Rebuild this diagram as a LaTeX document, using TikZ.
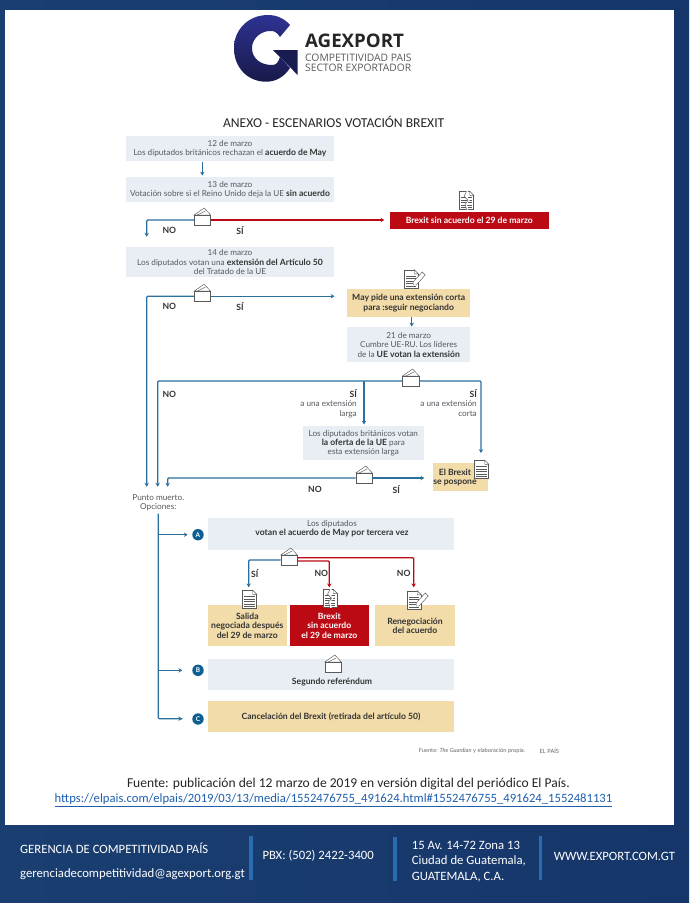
\documentclass[tikz,border=0pt]{standalone}
\usepackage{fontspec}
\setmainfont{Lato}
\newfontfamily\calfont{Carlito}
\newfontfamily\logofont{Open Sans}
\usetikzlibrary{arrows.meta,calc}
\definecolor{paleblue}{HTML}{E9EEF5}
\definecolor{sand}{HTML}{F2DCAA}
\definecolor{brexred}{HTML}{BB0A14}
\definecolor{lineblue}{HTML}{2A6F9E}
\definecolor{dotblue}{HTML}{0C5F92}
\definecolor{inktext}{HTML}{55595E}
\definecolor{logoblue}{HTML}{2E3392}
\definecolor{bgleft}{HTML}{1A3E70}
\definecolor{bgmid}{HTML}{1F4B85}
\definecolor{bgright}{HTML}{16366A}
\definecolor{barblue}{HTML}{2A6CB0}
\definecolor{urlblue}{HTML}{1F5FAE}
\newcommand{\smallf}{\fontsize{8.2}{9.4}\selectfont}
\newcommand{\boldf}{\fontsize{8.6}{9.4}\selectfont\bfseries}
\newcommand{\bb}[1]{{\boldf\color{black!80}#1}}
\tikzset{
  txt/.style = {font=\smallf, text=inktext, align=center, inner sep=0pt},
  blk/.style = {txt, font=\boldf, text=black!80},
  paper/.style = {txt, minimum width=#1, fill=paleblue},
  sandbox/.style = {txt, minimum width=#1, fill=sand, text=black!80, font=\boldf},
  redbox/.style = {txt, minimum width=#1, fill=brexred, text=white, font=\boldf},
  blueline/.style = {draw=lineblue, line width=1.15pt, rounded corners=1pt, -{Stealth[length=3.8pt,width=4.4pt]}},
  redline/.style = {blueline, draw=brexred},
  iconline/.style = {draw=black!65, line width=.45pt},
  ballotbox/.style = {iconline, fill=white, minimum width=16.5pt, minimum height=10pt, inner sep=0pt},
  sheet/.style = {iconline, fill=white, minimum width=14pt, minimum height=18pt, inner sep=0pt},
  dot/.style = {circle, fill=dotblue, minimum size=11.4pt, inner sep=0pt, text=white, font=\fontsize{6.5}{7}\selectfont\bfseries},
  foot/.style = {font=\calfont\fontsize{12.7}{14}\selectfont, text=white, inner sep=0pt, anchor=west},
  footbar/.style = {fill=barblue, minimum width=#1, minimum height=44pt, inner sep=0pt},
  small/.style = {font=\fontsize{5.7}{6}\selectfont, text=black!60, inner sep=0pt, anchor=west}
}
\newcommand{\ballot}[2]{
  \draw[iconline, fill=white] ($(#2)+(-8.2,-5)$) -- ++(10,-7) -- ++(5.2,5.5) -- ++(1.3,1.5) -- cycle;
  \draw[iconline] ($(#2)+(-5,-5)$) -- ++(8,-4);
  \node[ballotbox] (#1) at (#2) {};
}
\newcommand{\docicon}[2]{
  \node[sheet] (#1) at (#2) {};
  \foreach \r in {6,8.5,11,13.5,16} \draw[iconline] ($(#1.north west)+(2,\r)$) -- ($(#1.north east)+(-2,\r)$);
  \fill[white] ($(#1.north east)+(-4,-.5)$) rectangle ($(#1.north east)+(.5,4)$);
  \draw[iconline] ($(#1.north east)+(-4,0)$) -- ($(#1.north east)+(0,4)$) -- ($(#1.north east)+(-4,4)$) -- cycle;
}
\newcommand{\torndoc}[2]{
  \docicon{#1}{#2}
  \draw[white, line width=1.6pt] ($(#1.north)+(1,-.5)$) -- ++(-2.5,5) -- ++(4,4) -- ++(-3,4) -- ++(1.5,6);
  \draw[iconline] ($(#1.north)+(0,0)$) -- ++(-2.5,5) -- ++(4,4) -- ++(-3,4) -- ++(1.5,5);
}
\newcommand{\formicon}[2]{
  \docicon{#1}{#2}
  \draw[iconline, fill=white] ($(#1.east)+(-5,6)$) -- ++(0,-3) -- ++(9,-10) -- ++(3,3) -- ++(-9,10) -- cycle;
}
\begin{document}
\begin{tikzpicture}[x=1pt,y=-1pt]
\useasboundingbox (0,0) rectangle (689,903);
\shade[left color=bgleft, middle color=bgmid, right color=bgright] (0,0) rectangle (689,903);
\fill[white] (5,10) rectangle (674,825);

\shade[top color=logoblue, bottom color=logoblue!50!black] (290,25) .. controls (284,18) and (276,15) .. (268,15) .. controls (248,15) and (234,30) .. (234,48) .. controls (234,68) and (248,81.7) .. (266,81.7) .. controls (276,81.7) and (284,77) .. (290,68) -- (280,57) .. controls (278,63) and (276,65) .. (272,65) .. controls (260,65) and (252,58) .. (252,48) .. controls (252,38) and (262,30) .. (272,31) .. controls (275,31) and (278,34) .. (280,37) -- cycle;
\fill[logoblue!55!black] (273,50) -- (297.7,50) -- (297.7,75) -- cycle;
\node[font=\logofont\bfseries\fontsize{18.7}{20}\selectfont, text=black!85, inner sep=0pt, anchor=west] (agex) at (305,40.7) {AGEXPORT};
\node[font=\logofont\fontsize{10.3}{9.7}\selectfont, text=black!65, align=left, inner sep=0pt, anchor=north west] (lema) at (305,54) {COMPETITIVIDAD PAIS\\SECTOR EXPORTADOR};
\node[font=\calfont\fontsize{13.6}{15}\selectfont, text=black!85, inner sep=0pt] (titulo) at (333.7,122) {ANEXO - ESCENARIOS VOTACIÓN BREXIT};

\node[paper=208pt, minimum height=25.3pt] (a1) at (230,148.7) {12 de marzo\\Los diputados británicos rechazan el \bb{acuerdo de May}};
\node[paper=208pt, minimum height=25.6pt] (a2) at (230,189.5) {13 de marzo\\Votación sobre si el Reino Unido deja la UE \bb{sin acuerdo}};
\node[paper=208pt, minimum height=29.7pt] (a3) at (230,262.2) {14 de marzo\\Los diputados votan una \bb{extensión del Artículo 50}\\del Tratado de la UE};
\node[redbox=159.3pt, minimum height=16.7pt] (r1) at (469.3,220.3) {Brexit sin acuerdo el 29 de marzo};
\node[sandbox=123.3pt, minimum height=27.4pt] (s1) at (408.7,303) {May pide una extensión corta\\para :seguir negociando};
\node[paper=123.3pt, minimum height=35pt] (a4) at (408.7,344.8) {21 de marzo\\Cumbre UE-RU. Los líderes\\de la \bb{UE votan la extensión}};
\node[paper=121.3pt, minimum height=33.7pt] (a5) at (363.3,443.2) {Los diputados británicos votan\\\bb{la oferta de la UE} para\\esta extensión larga};
\node[sandbox=55pt, minimum height=27.4pt] (s2) at (460.5,477) {};
\node[blk] (s2t) at (455,477.5) {El Brexit\\se pospone};
\node[txt] (pm) at (158.3,503) {Punto muerto.\\Opciones:};

\node[paper=246pt, minimum height=31.7pt] (ca) at (331,534.2) {};
\node[txt] (cat) at (332,528.7) {Los diputados\\\bb{votan el acuerdo de May por tercera vez}};
\node[sandbox=78.7pt, minimum height=41.3pt] (s3) at (247.3,625.7) {Salida\\negociada después\\del 29 de marzo};
\node[redbox=78.7pt, minimum height=41.3pt] (r2) at (329.3,625.7) {Brexit\\sin acuerdo\\el 29 de marzo};
\node[sandbox=80pt, minimum height=41.3pt] (s4) at (415,625.7) {Renegociación\\del acuerdo};
\node[paper=246pt, minimum height=31.3pt] (cb) at (331,674.3) {};
\node[blk] (cbt) at (332,682) {Segundo referéndum};
\node[sandbox=246pt, minimum height=31.3pt] (cc) at (331,716.7) {Cancelación del Brexit (retirada del artículo 50)};

\ballot{v1}{202.3,220}
\ballot{v2}{202.3,296.2}
\ballot{v3}{410.8,381}
\ballot{v4}{364,478}
\ballot{v5}{289,560}
\ballot{v6}{333,667}
\torndoc{d1}{466.5,200.5}
\formicon{d2}{411,279}
\docicon{d3}{481.5,469.5}
\docicon{d4}{249.5,599.5}
\torndoc{d5}{330,598.5}
\formicon{d6}{414,600}

\coordinate (e1) at (202.3,175.5);
\coordinate (e2) at (146.7,236.7);
\coordinate (e3) at (384.3,220);
\coordinate (e4) at (146.7,486.7);
\coordinate (e5) at (334.5,296.2);
\coordinate (e6) at (411.7,326.5);
\coordinate (e7) at (157.7,486.7);
\coordinate (e8) at (364,424.5);
\coordinate (e9) at (481,453);
\coordinate (e10) at (167.7,486.7);
\coordinate (e11) at (424.3,478);
\coordinate (e12) at (248.7,587.3);
\coordinate (e13) at (329.3,587.3);
\coordinate (e14) at (413.7,587.3);
\coordinate (e15) at (187.7,534.7);
\coordinate (e16) at (182.3,670.3);
\coordinate (e17) at (182.3,718.7);
\coordinate (t1) at (158.3,513.5);
\coordinate (t2) at (158.3,534.7);
\coordinate (t3) at (158.3,670.3);
\coordinate (t4) at (158.3,718.7);
\coordinate (v5r) at (297,557.7);
\coordinate (v5s) at (297,561);

\draw[blueline] (a1.south -| e1) -- (e1);
\draw[blueline] (v1.west) -| (e2);
\draw[redline] (v1.east) -- (e3);
\draw[blueline] (v2.west) -| (e4);
\draw[blueline] (v2.east) -- (e5);
\draw[blueline] (s1.south -| e6) -- (e6);
\draw[blueline] (v3.west) -| (e7);
\draw[blueline] (v3.west -| e8) -- (e8);
\draw[blueline] (v3.east) -| (e9);
\draw[blueline] (v4.west) -| (e10);
\draw[blueline] (v4.east) -- (e11);
\draw[blueline] (v5.west) -| (e12);
\draw[redline] (v5s) -| (e13);
\draw[redline] (v5r) -| (e14);
\draw[draw=lineblue, line width=1.15pt, rounded corners=1pt] (t1) |- (e17);
\draw[blueline] (t2) -- (e15);
\draw[blueline] (t3) -- (e16);
\draw[blueline] (t4) -- (e17);

\node[dot] (oa) at (198,534.7) {A};
\node[dot] (ob) at (198,670.3) {B};
\node[dot] (oc) at (198,719) {C};

\node[blk] (n1) at (169.3,230.3) {NO};
\node[blk] (y1) at (240,230.3) {SÍ};
\node[blk] (n2) at (169.3,306.7) {NO};
\node[blk] (y2) at (240,306.7) {SÍ};
\node[blk] (n3) at (169.3,394.3) {NO};
\node[txt, align=right, anchor=north east] (y3) at (357,389) {\bb{SÍ}\\a una extensión\\larga};
\node[txt, align=right, anchor=north east] (y4) at (477,389) {\bb{SÍ}\\a una extensión\\corta};
\node[blk] (n4) at (315,489.7) {NO};
\node[blk] (y5) at (396.3,489.7) {SÍ};
\node[blk] (y6) at (254.7,573.3) {SÍ};
\node[blk] (n5) at (321.3,573.3) {NO};
\node[blk] (n6) at (403.7,573.3) {NO};

\node[small] (fnt) at (418.7,751.3) {Fuente: \textit{The Guardian} y elaboración propia.};
\node[small] (elp) at (539.5,751.3) {EL PAÍS};

\node[font=\calfont\fontsize{13.55}{15}\selectfont, text=black!85, inner sep=0pt] (cap) at (348.4,784) {Fuente: publicación del 12 marzo de 2019 en versión digital del periódico El País.};
\node[font=\calfont\fontsize{12.65}{15}\selectfont, text=urlblue, inner sep=0pt] (url) at (333.5,800) {\underline{https://elpais.com/elpais/2019/03/13/media/1552476755\_491624.html\#1552476755\_491624\_1552481131}};

\node[foot] (f1) at (20,848) {GERENCIA DE COMPETITIVIDAD PAÍS};
\node[foot] (f2) at (20,874.3) {gerenciadecompetitividad@agexport.org.gt};
\node[foot] (f3) at (262.3,855.3) {PBX: (502) 2422-3400};
\node[foot] (f4) at (411.7,845) {15 Av. 14-72 Zona 13};
\node[foot] (f5) at (411.7,861) {Ciudad de Guatemala,};
\node[foot] (f6) at (411.7,876.7) {GUATEMALA, C.A.};
\node[foot] (f7) at (553.6,856.7) {WWW.EXPORT.COM.GT};
\node[footbar=4.4pt] (b1) at (251.2,857.5) {};
\node[footbar=4.2pt] (b2) at (394.6,859) {};
\node[footbar=3pt] (b3) at (540.2,858) {};
\end{tikzpicture}
\end{document}
